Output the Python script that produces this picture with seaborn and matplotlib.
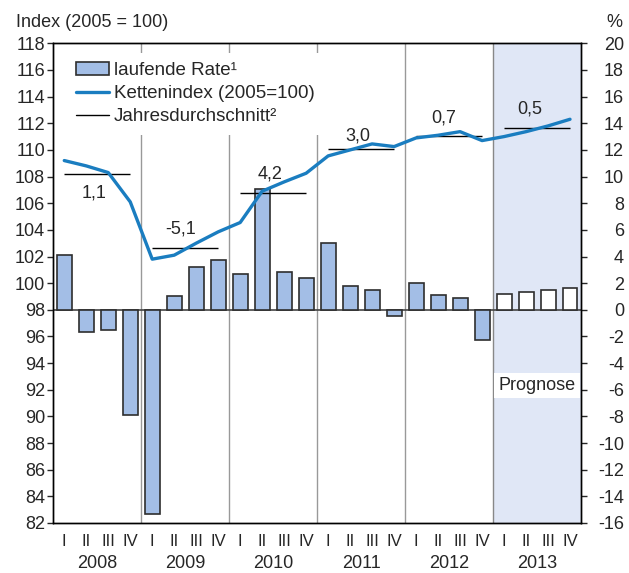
import numpy as np
import pandas as pd
import matplotlib
matplotlib.use("Agg")
import matplotlib.pyplot as plt
import matplotlib.transforms as mtransforms
from matplotlib.patches import Patch
from matplotlib.lines import Line2D
import seaborn as sns

# data
years = [2008, 2009, 2010, 2011, 2012, 2013]
quarter_names = ["I", "II", "III", "IV"]
rate = [4.1, -1.7, -1.5, -7.9, -15.3, 1.0, 3.2, 3.7,
        2.7, 9.1, 2.8, 2.4, 5.0, 1.8, 1.5, -0.5,
        2.0, 1.1, 0.9, -2.3, 1.2, 1.3, 1.5, 1.6]
chain_index = [109.2, 108.8, 108.3, 106.1, 101.8, 102.1, 103.0, 103.85,
               104.55, 106.9, 107.6, 108.25, 109.55, 110.0, 110.45, 110.25,
               110.9, 111.1, 111.37, 110.7, 111.0, 111.37, 111.8, 112.3]
year_avg = [108.18, 102.65, 106.75, 110.08, 111.02, 111.68]
avg_labels = ["1,1", "-5,1", "4,2", "3,0", "0,7", "0,5"]
label_x = [1.35, 5.3, 9.35, 13.35, 17.26, 21.17]
label_y = [106.78, 104.08, 108.2, 111.05, 112.37, 113.08]
forecast_year = 2013

df = pd.DataFrame({
    "pos": np.arange(len(rate)),
    "year": np.repeat(years, 4),
    "quarter": quarter_names * len(years),
    "rate": rate,
    "index": chain_index,
})
df["forecast"] = df["year"] == forecast_year

sns.set_style("white")
plt.rcParams["font.family"] = ["Liberation Sans", "DejaVu Sans"]
plt.rcParams["font.size"] = 13
plt.rcParams["axes.unicode_minus"] = False

bar_blue = "#a3bee6"
line_blue = "#1a7dc0"
shade = "#e0e7f6"
edge = "#2e2e2e"

fig = plt.figure(figsize=(6.29, 5.73), dpi=100)
ax = fig.add_axes([0.0847, 0.0873, 0.8390, 0.8371])
ax2 = ax.twinx()

# percent axis (bars), ticks shown on the right
ax.axvspan(19.5, 23.5, color=shade, zorder=0, lw=0)
for b in [3.5, 7.5, 11.5, 15.5]:
    ax.axvline(b, color="#999999", lw=1, zorder=0.5)
ax.axvline(19.5, color="#888888", lw=1, zorder=0.5)

sns.barplot(data=df, x="pos", y="rate", hue="forecast",
            palette={False: bar_blue, True: "white"}, dodge=False,
            legend=False, width=0.68, edgecolor=edge, linewidth=1.2,
            saturation=1, ax=ax, zorder=2)
ax.axhline(0, color="#444444", lw=1.2, zorder=1.5)

# index axis (line), ticks shown on the left
sns.lineplot(data=df, x="pos", y="index", color=line_blue, lw=2.4, ax=ax2, zorder=4)
for k, avg in enumerate(year_avg):
    ax2.hlines(avg, 4 * k, 4 * k + 3, color="black", lw=1, zorder=3)
    ax2.text(label_x[k], label_y[k], avg_labels[k], ha="center", va="center", fontsize=13)

ax2.text(21.5, 92.3, "Prognose", ha="center", va="center", fontsize=13, zorder=5,
         bbox=dict(facecolor="white", edgecolor="none", boxstyle="square,pad=0.22"))

ax.set_xlim(-0.5, 23.5)
ax.set_ylim(-16, 20)
ax2.set_ylim(82, 118)

ax.yaxis.set_ticks_position("right")
ax2.yaxis.set_ticks_position("left")
ax.set_yticks(np.arange(-16, 21, 2))
ax2.set_yticks(np.arange(82, 119, 2))
ax.tick_params(axis="y", direction="out", length=4, width=1, pad=27, labelsize=13)
for t in ax.get_yticklabels():
    t.set_horizontalalignment("right")
ax2.tick_params(axis="y", direction="out", length=4, width=1, pad=2, labelsize=13)
for a in (ax, ax2):
    a.set_xlabel("")
    a.set_ylabel("")

ax.set_xticks(df["pos"])
ax.set_xticklabels(df["quarter"])
ax.tick_params(axis="x", length=0, pad=8, labelsize=12)
trans = mtransforms.blended_transform_factory(ax.transData, ax.transAxes)
for k, yr in enumerate(years):
    ax.annotate(str(yr), xy=(4 * k + 1.5, 0), xycoords=trans, xytext=(0, -32.4),
                textcoords="offset points", ha="center", va="baseline", fontsize=13)

for a in (ax, ax2):
    for s in a.spines.values():
        s.set_color("black")
        s.set_linewidth(1)

handles = [Patch(facecolor=bar_blue, edgecolor=edge, lw=1.2),
           Line2D([], [], color=line_blue, lw=2.4),
           Line2D([], [], color="black", lw=1)]
leg = ax2.legend(handles, ["laufende Rate\u00b9", "Kettenindex (2005=100)",
                           "Jahresdurchschnitt\u00b2"],
                 loc="upper left", bbox_to_anchor=(0.025, 0.98), borderaxespad=0,
                 frameon=True, facecolor="white", edgecolor="none", framealpha=1,
                 fancybox=False, borderpad=0.5, handlelength=1.76, handletextpad=0.27,
                 labelspacing=0.31, fontsize=13.5)
leg.set_zorder(10)

fig.text(0.0254, 0.9607, "Index (2005 = 100)", ha="left", va="center", fontsize=13)
fig.text(0.989, 0.9607, "%", ha="right", va="center", fontsize=13)

fig.savefig("out.png", dpi=100)
